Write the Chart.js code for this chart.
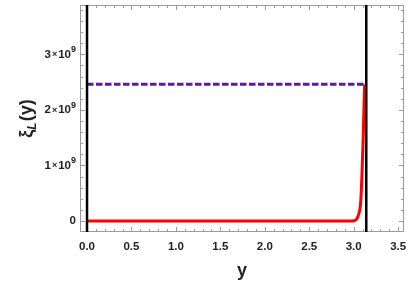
<!DOCTYPE html>
<html><head><meta charset="utf-8">
<script src="https://cdn.jsdelivr.net/npm/chart.js@4/dist/chart.umd.min.js"></script>
<style>html,body{margin:0;padding:0;background:#fff}#wrap{width:409px;height:284px}</style>
</head><body><div id="wrap"><canvas id="c"></canvas></div>
<script>
// x range and y range of the frame
const xRange = [-0.079, 3.566];
const yRange = [-0.198e9, 3.889e9];
// tick labels
const xTickValues = [0, 0.5, 1, 1.5, 2, 2.5, 3, 3.5];
const xTickLabels = ["0.0","0.5","1.0","1.5","2.0","2.5","3.0","3.5"];
const yTickValues = [0, 1e9, 2e9, 3e9];
const yTickMantissa = ["0", "1", "2", "3"];
const yTickExponent = "9";
// red curve xi_L(y)
const xiX = [0, 0.5, 1.0, 1.5, 2.0, 2.5, 2.9, 2.98, 3.015, 3.052, 3.079, 3.093, 3.108, 3.119, 3.124];
const xiY = [0, 0, 0, 0, 0, 0, 0, 0.001e9, 0.01e9, 0.1e9, 0.35e9, 0.83e9, 1.55e9, 2.27e9, 2.46e9];
// dashed horizontal level
const levelX = [0, 3.1416];
const levelY = [2.464e9, 2.464e9];
// vertical boundaries at y=0 and y=pi
const boundaryX = [0, 3.1416];

const pts = (xs, ys) => xs.map((x, i) => ({x, y: ys[i]}));
const FONT = '"Liberation Sans", Arial, sans-serif';

const framePlugin = {
  id: 'frame',
  beforeDatasetsDraw(chart) {
    const {ctx, chartArea: a, scales: {x, y}} = chart;
    ctx.save();
    ctx.strokeStyle = '#9a9a9a';
    ctx.lineWidth = 1;
    ctx.beginPath();
    for (let i = 0; i <= 35; i++) {
      const v = i / 10;
      const px = Math.round(x.getPixelForValue(v)) + 0.5;
      const len = (i % 5 === 0) ? 5 : 3;
      ctx.moveTo(px, a.bottom); ctx.lineTo(px, a.bottom - len);
      ctx.moveTo(px, a.top); ctx.lineTo(px, a.top + len);
    }
    for (let i = -1; i <= 19; i++) {
      const v = i * 0.2e9;
      const py = Math.round(y.getPixelForValue(v)) + 0.5;
      if (py < a.top || py > a.bottom) continue;
      const len = (i % 5 === 0) ? 5 : 3;
      ctx.moveTo(a.left, py); ctx.lineTo(a.left + len, py);
      ctx.moveTo(a.right, py); ctx.lineTo(a.right - len, py);
    }
    ctx.stroke();
    ctx.strokeRect(a.left + 0.5, a.top + 0.5, a.right - a.left - 1, a.bottom - a.top - 1);
    ctx.restore();
  },
  afterDraw(chart) {
    const {ctx, chartArea: a, scales: {y}} = chart;
    ctx.save();
    ctx.fillStyle = '#222';
    ctx.textBaseline = 'middle';
    ctx.textAlign = 'left';
    const digit = 'bold 11.5px ' + FONT;
    const times = 'bold 9px ' + FONT;
    const sup = 'bold 9px ' + FONT;
    yTickValues.forEach((v, i) => {
      const py = y.getPixelForValue(v);
      const right = a.left - 4;
      if (v === 0) {
        ctx.font = digit; ctx.textAlign = 'right';
        ctx.fillText(yTickMantissa[i], right, py);
        ctx.textAlign = 'left';
        return;
      }
      ctx.font = digit; const wm = ctx.measureText(yTickMantissa[i]).width;
      ctx.font = times; const wt = ctx.measureText('\u00d7').width;
      ctx.font = digit; const wb = ctx.measureText('10').width;
      ctx.font = sup; const we = ctx.measureText(yTickExponent).width;
      let sx = right - (wm + 1 + wt + 1 + wb + we);
      ctx.font = digit; ctx.fillText(yTickMantissa[i], sx, py); sx += wm + 1;
      ctx.font = times; ctx.fillText('\u00d7', sx, py + 0.5); sx += wt + 1;
      ctx.font = digit; ctx.fillText('10', sx, py); sx += wb;
      ctx.font = sup; ctx.fillText(yTickExponent, sx, py - 4.5);
    });
    ctx.font = 'bold 18px ' + FONT;
    ctx.textAlign = 'center';
    ctx.textBaseline = 'alphabetic';
    ctx.fillText('y', (a.left + a.right) / 2, 276);
    ctx.translate(32, (a.top + a.bottom) / 2);
    ctx.rotate(-Math.PI / 2);
    const big = 'bold 18px ' + FONT;
    const small = 'italic bold 12px ' + FONT;
    ctx.textAlign = 'left';
    ctx.font = big; const w1 = ctx.measureText('\u03be').width;
    ctx.font = small; const w2 = ctx.measureText('L').width;
    ctx.font = big; const w3 = ctx.measureText('(y)').width;
    let sx = -(w1 + w2 + 1 + w3) / 2;
    ctx.font = big; ctx.fillText('\u03be', sx, 0); sx += w1;
    ctx.font = small; ctx.fillText('L', sx, 4); sx += w2 + 1;
    ctx.font = big; ctx.fillText('(y)', sx, 0);
    ctx.restore();
  }
};

new Chart(document.getElementById('c'), {
  type: 'scatter',
  data: {
    datasets: [
      { data: pts(xiX, xiY), showLine: true, borderColor: '#ff0000', borderWidth: 3, pointRadius: 0, cubicInterpolationMode: 'monotone', order: 3 },
      { data: pts(levelX, levelY), showLine: true, borderColor: '#5c1a9c', borderWidth: 3, borderDash: [6.5, 2.5], pointRadius: 0, order: 2 },
      { data: pts([boundaryX[0], boundaryX[0]], yRange), showLine: true, borderColor: '#000', borderWidth: 2.5, pointRadius: 0, order: 1 },
      { data: pts([boundaryX[1], boundaryX[1]], yRange), showLine: true, borderColor: '#000', borderWidth: 2.5, pointRadius: 0, order: 1 }
    ]
  },
  options: {
    responsive: true, maintainAspectRatio: false, animation: false,
    layout: { padding: { top: 5, right: 5, left: 0, bottom: 0 } },
    plugins: { legend: { display: false }, tooltip: { enabled: false } },
    scales: {
      x: {
        type: 'linear', min: xRange[0], max: xRange[1],
        grid: { display: false, drawTicks: false }, border: { display: false },
        afterBuildTicks: s => { s.ticks = xTickValues.map(v => ({value: v})); },
        afterFit: s => { s.height = 52; s.paddingLeft = 0; s.paddingRight = 0; },
        ticks: { padding: 8, color: '#222', maxRotation: 0, autoSkip: false,
          font: { family: FONT, size: 11.5, weight: 'bold' },
          callback: (v) => { const i = xTickValues.indexOf(v); return i >= 0 ? xTickLabels[i] : ''; } }
      },
      y: {
        type: 'linear', min: yRange[0], max: yRange[1],
        grid: { display: false, drawTicks: false }, border: { display: false },
        afterBuildTicks: s => { s.ticks = yTickValues.map(v => ({value: v})); },
        afterFit: s => { s.width = 80; s.paddingTop = 0; s.paddingBottom = 0; },
        ticks: { display: false }
      }
    }
  },
  plugins: [framePlugin]
});
</script></body></html>
